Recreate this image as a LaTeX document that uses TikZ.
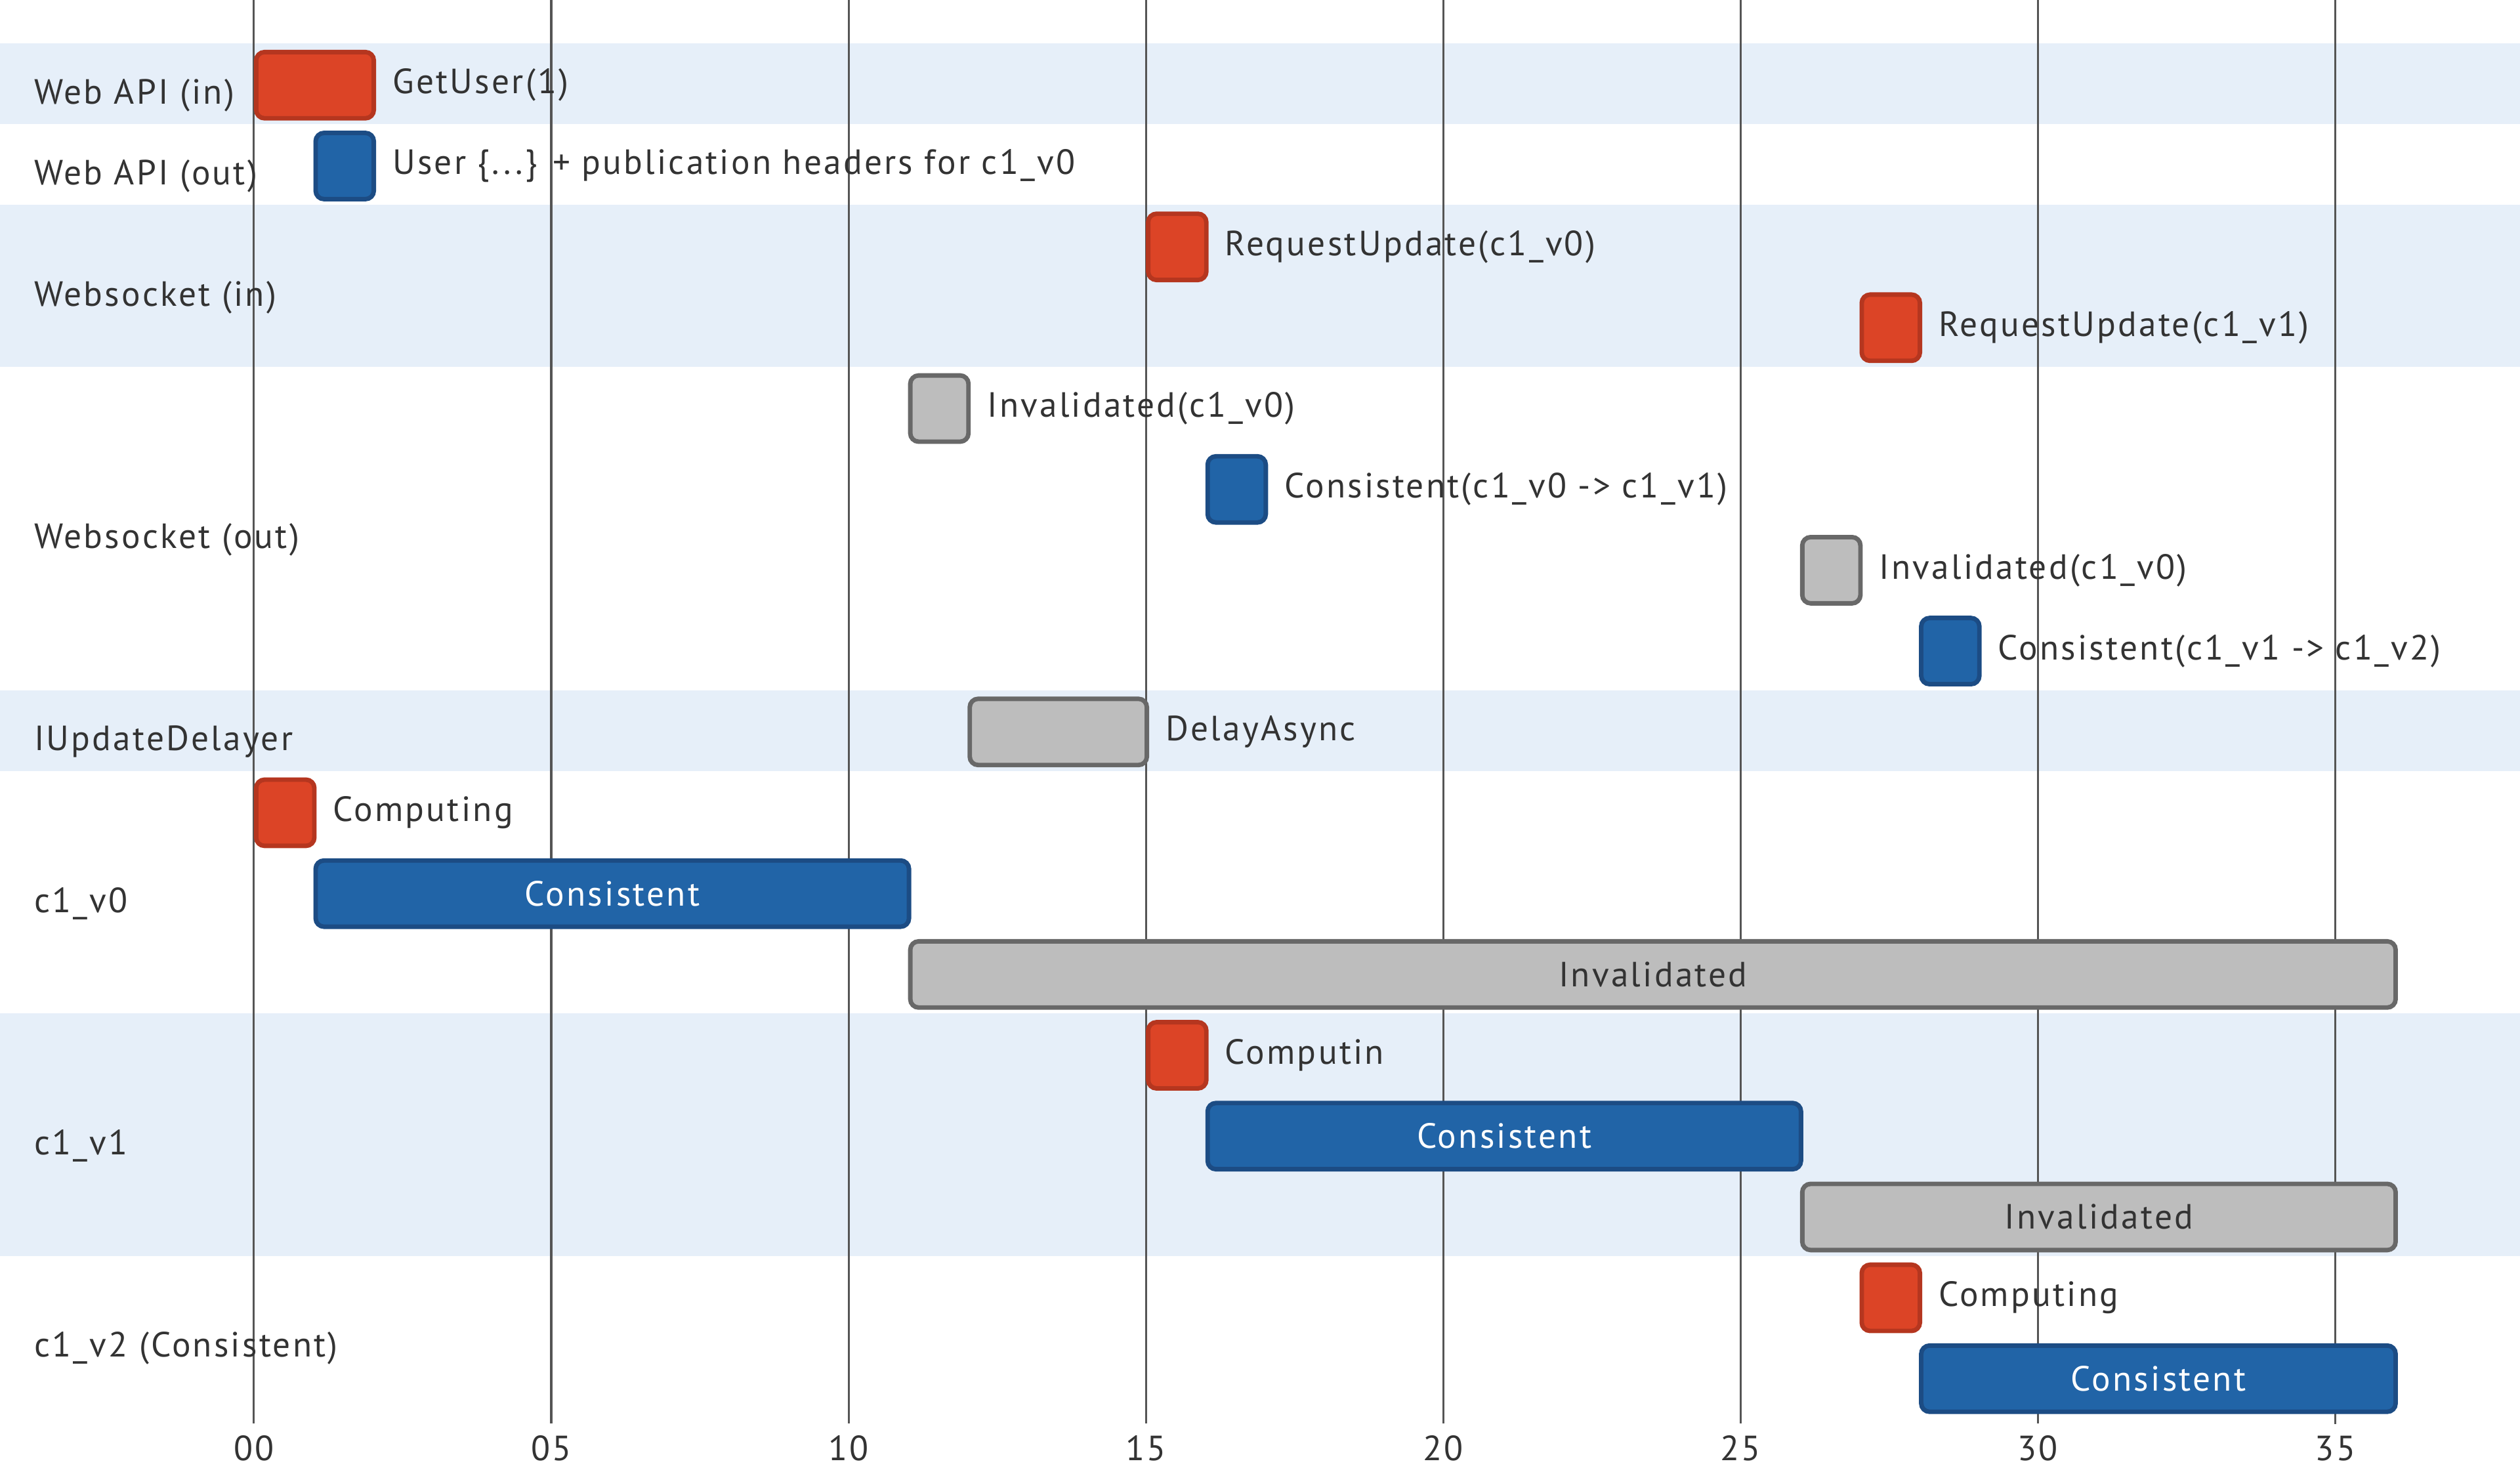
\documentclass[tikz,border=0pt]{standalone}
\usepackage{fontspec}
\setmainfont{PT Sans}[LetterSpace=6]
\usepackage{tikz}
\usetikzlibrary{positioning}

\definecolor{bandblue}{HTML}{E6EFF9}
\definecolor{gridgray}{HTML}{555555}
\definecolor{txtgray}{HTML}{333333}
\definecolor{redfill}{HTML}{DC4426}
\definecolor{reddraw}{HTML}{B5361F}
\definecolor{bluefill}{HTML}{2164A7}
\definecolor{bluedraw}{HTML}{1C4C84}
\definecolor{grayfill}{HTML}{BDBDBD}
\definecolor{graydraw}{HTML}{686868}
\newcommand{\tw}{0.925cm}

\begin{document}
\begin{tikzpicture}[x=0.925cm,y=-1.2575cm,node distance=0.25cm,
  every node/.style={font=\fontsize{15.5}{18}\selectfont, text=txtgray},
  bar/.style={rounded corners=0.13cm, line width=0.07cm, minimum height=1.03cm,
    minimum width=\tw-0.02cm, inner sep=0pt, anchor=west},
  redbar/.style={bar, fill=redfill, draw=reddraw},
  bluebar/.style={bar, fill=bluefill, draw=bluedraw, text=white},
  graybar/.style={bar, fill=grayfill, draw=graydraw},
  lbl/.style={anchor=west, inner sep=0pt},
  sect/.style={anchor=west, inner sep=0pt},
  tick/.style={inner sep=0pt},
  gridline/.style={draw=gridgray, line width=0.9pt, shorten >=0.18cm}]

  \useasboundingbox (-4.2703,-0.5368) rectangle (38.1081,17.6640);

  % section bands
  \fill[bandblue] (-4.2703,0) rectangle (38.1081,1);
  \fill[bandblue] (-4.2703,2) rectangle (38.1081,4);
  \fill[bandblue] (-4.2703,8) rectangle (38.1081,9);
  \fill[bandblue] (-4.2703,12) rectangle (38.1081,15);

  % time axis
  \node[tick] (t00) at (0,17.38) {00};
  \node[tick] (t05) at (5,17.38) {05};
  \node[tick] (t10) at (10,17.38) {10};
  \node[tick] (t15) at (15,17.38) {15};
  \node[tick] (t20) at (20,17.38) {20};
  \node[tick] (t25) at (25,17.38) {25};
  \node[tick] (t30) at (30,17.38) {30};
  \node[tick] (t35) at (35,17.38) {35};
  \coordinate (g00) at (0,-0.5368);
  \coordinate (g05) at (5,-0.5368);
  \coordinate (g10) at (10,-0.5368);
  \coordinate (g15) at (15,-0.5368);
  \coordinate (g20) at (20,-0.5368);
  \coordinate (g25) at (25,-0.5368);
  \coordinate (g30) at (30,-0.5368);
  \coordinate (g35) at (35,-0.5368);

  \path[gridline]
    (g00) edge (t00)
    (g05) edge (t05)
    (g10) edge (t10)
    (g15) edge (t15)
    (g20) edge (t20)
    (g25) edge (t25)
    (g30) edge (t30)
    (g35) edge (t35);

  % section names
  \node[sect] (webin) at (-3.7027,0.64) {Web API (in)};
  \node[sect] (webout) at (-3.7027,1.64) {Web API (out)};
  \node[sect] (wsin) at (-3.7027,3.14) {Websocket (in)};
  \node[sect] (wsout) at (-3.7027,6.14) {Websocket (out)};
  \node[sect] (delayer) at (-3.7027,8.64) {IUpdateDelayer};
  \node[sect] (secv0) at (-3.7027,10.64) {c1\_v0};
  \node[sect] (secv1) at (-3.7027,13.64) {c1\_v1};
  \node[sect] (secv2) at (-3.7027,16.14) {c1\_v2 (Consistent)};

  % Web API
  \node[redbar, minimum width=2*\tw-0.02cm] (getuser) at (0,0.517) {};
  \node[lbl] (getuserlbl) [right=of getuser] {GetUser(1)};
  \node[bluebar] (userout) at (1,1.517) {};
  \node[lbl] (useroutlbl) [right=of userout] {User \{...\} + publication headers for c1\_v0};

  % Websocket
  \node[redbar] (req0) at (15,2.517) {};
  \node[lbl] (req0lbl) [right=of req0] {RequestUpdate(c1\_v0)};
  \node[redbar] (req1) at (27,3.517) {};
  \node[lbl] (req1lbl) [right=of req1] {RequestUpdate(c1\_v1)};
  \node[graybar] (inv0) at (11,4.517) {};
  \node[lbl] (inv0lbl) [right=of inv0] {Invalidated(c1\_v0)};
  \node[bluebar] (cons01) at (16,5.517) {};
  \node[lbl] (cons01lbl) [right=of cons01] {Consistent(c1\_v0 -> c1\_v1)};
  \node[graybar] (inv0b) at (26,6.517) {};
  \node[lbl] (inv0blbl) [right=of inv0b] {Invalidated(c1\_v0)};
  \node[bluebar] (cons12) at (28,7.517) {};
  \node[lbl] (cons12lbl) [right=of cons12] {Consistent(c1\_v1 -> c1\_v2)};

  % IUpdateDelayer
  \node[graybar, minimum width=3*\tw-0.02cm] (delay) at (12,8.517) {};
  \node[lbl] (delaylbl) [right=of delay] {DelayAsync};

  % c1_v0
  \node[redbar] (v0comp) at (0,9.517) {};
  \node[lbl] (v0complbl) [right=of v0comp] {Computing};
  \node[bluebar, minimum width=10*\tw-0.02cm] (v0cons) at (1,10.517) {Consistent};
  \node[graybar, minimum width=25*\tw-0.02cm] (v0inv) at (11,11.517) {Invalidated};

  % c1_v1
  \node[redbar] (v1comp) at (15,12.517) {};
  \node[lbl] (v1complbl) [right=of v1comp] {Computin};
  \node[bluebar, minimum width=10*\tw-0.02cm] (v1cons) at (16,13.517) {Consistent};
  \node[graybar, minimum width=10*\tw-0.02cm] (v1inv) at (26,14.517) {Invalidated};

  % c1_v2
  \node[redbar] (v2comp) at (27,15.517) {};
  \node[lbl] (v2complbl) [right=of v2comp] {Computing};
  \node[bluebar, minimum width=8*\tw-0.02cm] (v2cons) at (28,16.517) {Consistent};

\end{tikzpicture}
\end{document}
